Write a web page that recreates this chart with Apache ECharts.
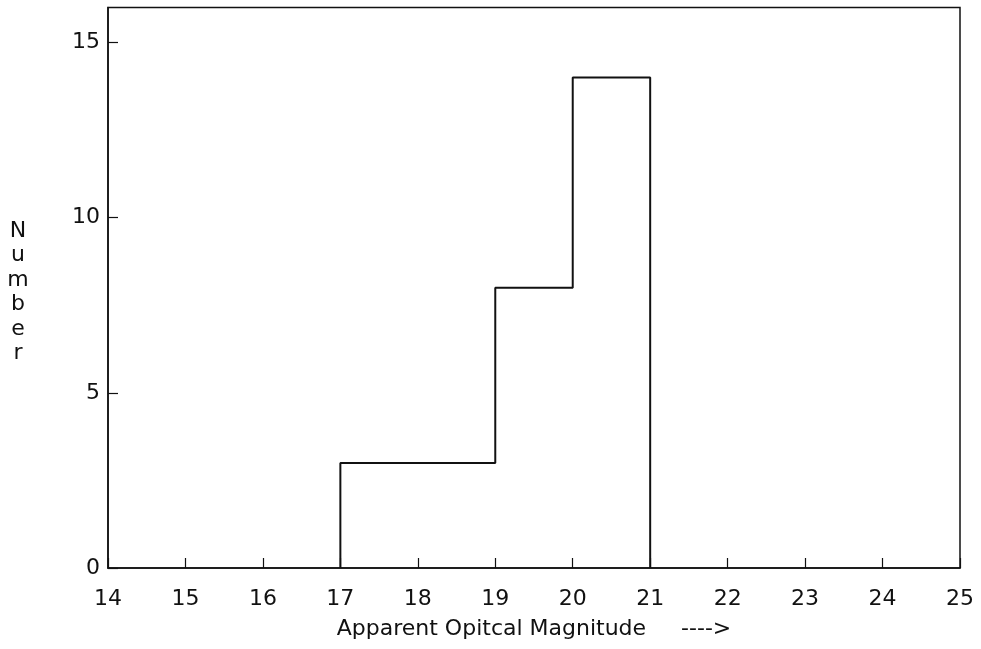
<!DOCTYPE html>
<html>
<head>
<meta charset="utf-8">
<title>Apparent Optical Magnitude histogram</title>
<script src="https://cdn.jsdelivr.net/npm/echarts@6/dist/echarts.min.js"></script>
<style>
  html, body { margin: 0; padding: 0; background: #ffffff; }
  #chart { width: 981px; height: 649px; }
</style>
</head>
<body>
<div id="chart"></div>
<script>
// Histogram bins: edges along magnitude and the count in each bin
const binEdges = [17, 19, 20, 21];
const binCounts = [3, 8, 14];

// Axis ticks
const xTicks = [14, 15, 16, 17, 18, 19, 20, 21, 22, 23, 24, 25];
const yTicks = [0, 5, 10, 15];

// Outline of the histogram as a stepped path through the bin edges
const outline = [[binEdges[0], 0]];
binCounts.forEach(function (c, i) {
  outline.push([binEdges[i], c]);
  outline.push([binEdges[i + 1], c]);
});
outline.push([binEdges[binEdges.length - 1], 0]);

const FONT = 'DejaVu Sans';
const INK = '#111111';

const chart = echarts.init(document.getElementById('chart'), null, { renderer: 'canvas' });
chart.setOption({
  backgroundColor: '#ffffff',
  animation: false,
  grid: {
    left: 108, right: 21, top: 7.5, bottom: 81,
    show: true, borderColor: INK, borderWidth: 1.5, backgroundColor: 'transparent'
  },
  xAxis: {
    type: 'value',
    min: xTicks[0],
    max: xTicks[xTicks.length - 1],
    interval: 1,
    name: 'Apparent Opitcal Magnitude     ---->',
    nameLocation: 'middle',
    nameGap: 50,
    nameTextStyle: { fontFamily: FONT, fontSize: 22, color: INK },
    axisLine: { show: true, lineStyle: { color: INK, width: 1.5 } },
    axisTick: { show: true, inside: true, length: 10, lineStyle: { color: INK, width: 1.2 } },
    axisLabel: {
      fontFamily: FONT, fontSize: 22, color: INK, margin: 20,
      showMinLabel: true, showMaxLabel: true
    },
    splitLine: { show: false }
  },
  yAxis: {
    type: 'value',
    min: 0,
    max: 16,
    interval: 5,
    axisLine: { show: true, lineStyle: { color: INK, width: 1.5 } },
    axisTick: {
      show: true, inside: true, length: 10,
      customValues: yTicks,
      lineStyle: { color: INK, width: 1.2 }
    },
    axisLabel: {
      fontFamily: FONT, fontSize: 22, color: INK, margin: 8,
      customValues: yTicks
    },
    splitLine: { show: false }
  },
  graphic: [{
    type: 'text',
    x: 18,
    y: 219,
    style: {
      text: 'N\nu\nm\nb\ne\nr',
      fontFamily: FONT,
      fontSize: 22,
      lineHeight: 24.4,
      fill: INK,
      align: 'center',
      verticalAlign: 'top'
    }
  }],
  series: [{
    type: 'line',
    data: outline,
    showSymbol: false,
    symbol: 'none',
    lineStyle: { color: INK, width: 2 },
    silent: true,
    z: 3
  }]
});
</script>
</body>
</html>
